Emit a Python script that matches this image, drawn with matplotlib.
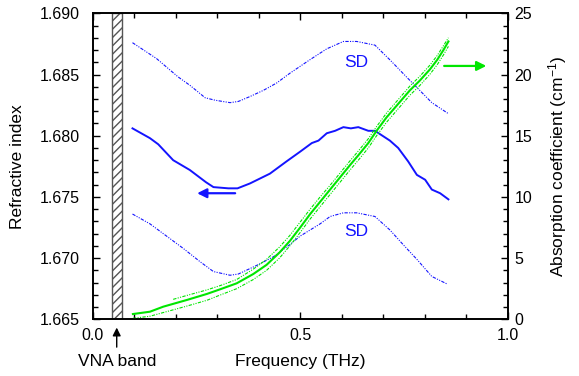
import matplotlib
matplotlib.use('Agg')
import matplotlib.pyplot as plt
from matplotlib.ticker import MultipleLocator, FormatStrFormatter

plt.rcParams['font.family'] = ['Liberation Sans', 'DejaVu Sans']
plt.rcParams['mathtext.default'] = 'regular'

# refractive index (left axis)
n_freq = [0.096, 0.138, 0.158, 0.194, 0.234, 0.273, 0.291, 0.327, 0.349, 0.379,
          0.427, 0.467, 0.500, 0.528, 0.544, 0.564, 0.584, 0.604, 0.622, 0.640,
          0.664, 0.680, 0.716, 0.736, 0.760, 0.781, 0.801, 0.817, 0.837, 0.857]
n_mean = [1.6806, 1.6798, 1.6793, 1.6780, 1.6772, 1.6762, 1.6758, 1.6757, 1.6757, 1.6761,
          1.6769, 1.6779, 1.6787, 1.6794, 1.6796, 1.6802, 1.6804, 1.6807, 1.6806, 1.6807,
          1.6804, 1.6804, 1.6796, 1.6790, 1.6779, 1.6768, 1.6764, 1.6756, 1.6753, 1.6748]

sd_up_freq = [0.096, 0.154, 0.206, 0.235, 0.271, 0.295, 0.331, 0.351, 0.379, 0.411, 0.443,
              0.475, 0.523, 0.564, 0.604, 0.636, 0.680, 0.716, 0.756, 0.788, 0.817, 0.857]
sd_up = [1.6876, 1.6863, 1.6848, 1.6841, 1.6831, 1.6829, 1.6827, 1.6828, 1.6832, 1.6837, 1.6843,
         1.6851, 1.6862, 1.6871, 1.6877, 1.6877, 1.6874, 1.6862, 1.6848, 1.6837, 1.6827, 1.6818]

sd_lo_freq = [0.096, 0.138, 0.178, 0.218, 0.259, 0.291, 0.331, 0.351, 0.395, 0.435, 0.475,
              0.500, 0.548, 0.572, 0.604, 0.636, 0.680, 0.716, 0.748, 0.781, 0.817, 0.853]
sd_lo = [1.6736, 1.6728, 1.6718, 1.6708, 1.6697, 1.6689, 1.6686, 1.6687, 1.6694, 1.6701, 1.6711,
         1.6718, 1.6728, 1.6734, 1.6737, 1.6737, 1.6734, 1.6723, 1.6711, 1.6699, 1.6685, 1.6679]

# absorption coefficient (right axis)
a_freq = [0.097, 0.138, 0.170, 0.227, 0.275, 0.307, 0.347, 0.387, 0.419, 0.450, 0.475, 0.500,
          0.524, 0.548, 0.572, 0.596, 0.620, 0.640, 0.664, 0.684, 0.708, 0.736, 0.764, 0.788,
          0.812, 0.830, 0.845, 0.857]
a_mean = [0.43, 0.62, 1.03, 1.58, 2.07, 2.45, 2.94, 3.70, 4.45, 5.45, 6.4, 7.5,
          8.6, 9.6, 10.6, 11.6, 12.6, 13.4, 14.4, 15.4, 16.5, 17.6, 18.7, 19.5,
          20.4, 21.2, 22.0, 22.7]
a_lo = [0.08, 0.25, 0.55, 1.08, 1.55, 1.98, 2.50, 3.25, 4.0, 5.0, 6.0, 7.1,
        8.2, 9.2, 10.2, 11.2, 12.2, 13.0, 14.0, 15.0, 16.1, 17.2, 18.3, 19.1,
        20.0, 20.8, 21.6, 22.3]
a_up_freq = [0.194, 0.227, 0.275, 0.307, 0.347, 0.387, 0.419, 0.450, 0.475, 0.500, 0.524, 0.548,
             0.572, 0.596, 0.620, 0.640, 0.664, 0.684, 0.708, 0.736, 0.764, 0.788, 0.812, 0.830,
             0.845, 0.857]
a_up = [1.63, 1.95, 2.40, 2.75, 3.25, 4.1, 4.9, 5.9, 6.85, 7.95, 9.0, 10.0,
        10.95, 11.95, 12.95, 13.75, 14.75, 15.75, 16.85, 17.95, 19.05, 19.85, 20.75, 21.55,
        22.35, 23.0]

vna_band = (0.046, 0.071)

blue = '#1414ff'
green = '#00e600'
dashdot = (0, (3, 1.2, 1, 1.2, 1, 1.2))

fig = plt.figure(figsize=(5.79, 3.76), dpi=100)
ax = fig.add_axes([0.160, 0.1508, 0.717, 0.8138])
ax2 = ax.twinx()

ax.axvspan(vna_band[0], vna_band[1], fill=False, hatch='////', edgecolor='#555555', lw=1.0)

ax.plot(n_freq, n_mean, color=blue, lw=1.4)
ax.plot(sd_up_freq, sd_up, color=blue, lw=0.8, ls=dashdot)
ax.plot(sd_lo_freq, sd_lo, color=blue, lw=0.8, ls=dashdot)
ax.text(0.636, 1.6860, 'SD', color=blue, fontsize=12.5, ha='center', va='center')
ax.text(0.636, 1.6722, 'SD', color=blue, fontsize=12.5, ha='center', va='center')
ax.annotate('', xy=(0.245, 1.6753), xytext=(0.35, 1.6753),
            arrowprops=dict(arrowstyle='-|>', color=blue, lw=1.6, mutation_scale=14))

ax2.plot(a_freq, a_mean, color=green, lw=1.5)
ax2.plot(a_freq, a_lo, color=green, lw=0.8, ls=dashdot)
ax2.plot(a_up_freq, a_up, color=green, lw=0.8, ls=dashdot)
ax2.annotate('', xy=(0.955, 20.7), xytext=(0.84, 20.7),
             arrowprops=dict(arrowstyle='-|>', color=green, lw=1.6, mutation_scale=14))

ax.set_xlim(0, 1.0)
ax.set_ylim(1.665, 1.690)
ax2.set_ylim(0, 25)

ax.xaxis.set_major_locator(MultipleLocator(0.5))
ax.xaxis.set_minor_locator(MultipleLocator(0.1))
ax.xaxis.set_major_formatter(FormatStrFormatter('%.1f'))
ax.yaxis.set_major_locator(MultipleLocator(0.005))
ax.yaxis.set_minor_locator(MultipleLocator(0.001))
ax.yaxis.set_major_formatter(FormatStrFormatter('%.3f'))
ax2.yaxis.set_major_locator(MultipleLocator(5))
ax2.yaxis.set_minor_locator(MultipleLocator(1))

ax.tick_params(axis='x', which='both', direction='in', top=True, labelsize=11.5, pad=6)
ax.tick_params(axis='y', which='both', direction='in', right=False, labelsize=11.5, pad=9)
ax2.tick_params(axis='y', which='both', direction='in', labelsize=11.5, pad=5)
for a in (ax, ax2):
    a.tick_params(which='major', length=5, width=1)
    a.tick_params(which='minor', length=3.5, width=1)
    for s in a.spines.values():
        s.set_linewidth(1.2)

ax.set_xlabel('Frequency (THz)', fontsize=12.5)
ax.xaxis.set_label_coords(0.5, -0.1395)
ax.xaxis.label.set_va('center')
ax.set_ylabel('Refractive index', fontsize=12.5)
ax.yaxis.set_label_coords(-0.18, 0.5)
ax2.set_ylabel('Absorption coefficient (cm$^{-1}$)', fontsize=12.5)
ax2.yaxis.set_label_coords(1.119, 0.5)
ax2.yaxis.label.set_va('center')
ax.yaxis.label.set_va('center')

ax.annotate('', xy=(0.058, -0.018), xytext=(0.058, -0.10),
            xycoords=('data', 'axes fraction'), textcoords=('data', 'axes fraction'),
            arrowprops=dict(arrowstyle='-|>', color='black', lw=1.0, mutation_scale=12),
            annotation_clip=False)
ax.text(0.058, -0.1395, 'VNA band', fontsize=12.5, ha='center', va='center',
        transform=ax.get_xaxis_transform())

fig.savefig('out.png', dpi=100)
